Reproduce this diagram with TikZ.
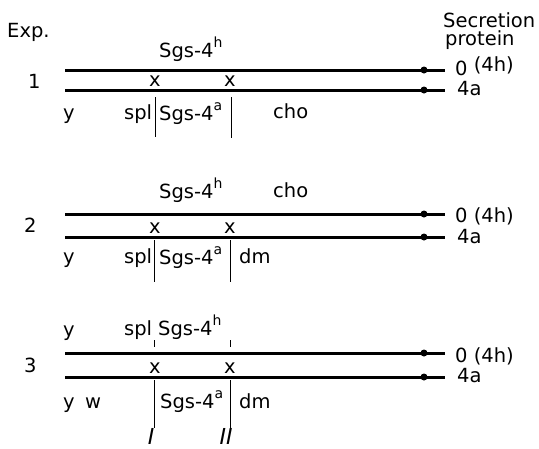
\documentclass[tikz,border=0pt]{standalone}
\usepackage{fontspec}
\setmainfont{DejaVu Sans}
% allele superscript, set a little larger than \textsuperscript
\newcommand{\allele}[1]{\raisebox{0.5em}{\fontsize{14}{14}\selectfont #1}}
\begin{document}
\begin{tikzpicture}[x=1pt,y=-1pt,
  lbl/.style={anchor=base west,inner sep=0pt,font=\fontsize{19.5}{22}\selectfont},
  mid/.style={lbl,anchor=base},
  chrom/.style={line width=3pt},
  bar/.style={line width=0.9pt},
  cen/.style={circle,fill,inner sep=0pt,minimum size=7pt},
  roman/.style={anchor=base,inner sep=0pt,font=\fontsize{22}{24}\selectfont\rmfamily\itshape}]
\useasboundingbox (0,0) rectangle (539,448);

% column heads
\node[lbl] (exp) at (7,37) {Exp.};
\node[lbl] (secr) at (443,27) {Secretion};
\node[lbl] (prot) at (445,45) {protein};

% ---------- experiment 1 ----------
\coordinate (u1s) at (65,70);  \coordinate (u1e) at (445,70);
\coordinate (l1s) at (65,90);  \coordinate (l1e) at (445,90);
\draw[chrom] (u1s) -- (u1e);
\draw[chrom] (l1s) -- (l1e);
\node[cen] (cu1) at (424,70) {};
\node[cen] (cl1) at (424,90) {};
\node[lbl] (n1) at (28,88) {1};
\node[lbl] (h1) at (159,57) {Sgs-4\allele{h}};
\node[mid] (xa1) at (155,86) {x};
\node[mid] (xb1) at (230,86) {x};
\node[lbl] (y1) at (63,119) {y};
\node[lbl] (spl1) at (124,119) {spl};
\node[lbl] (a1) at (159,120) {Sgs-4\allele{a}};
\node[lbl] (cho1) at (273,118) {cho};
\coordinate (ba1t) at (155,97);  \coordinate (ba1b) at (155,137);
\coordinate (bb1t) at (231,97);  \coordinate (bb1b) at (231,138);
\draw[bar] (ba1t) -- (ba1b);
\draw[bar] (bb1t) -- (bb1b);
\node[lbl] (o1) at (455,75) {0 \raisebox{4pt}{(4h)}};
\node[lbl] (f1) at (457,95) {4a};

% ---------- experiment 2 ----------
\coordinate (u2s) at (65,214);  \coordinate (u2e) at (445,214);
\coordinate (l2s) at (65,237);  \coordinate (l2e) at (445,237);
\draw[chrom] (u2s) -- (u2e);
\draw[chrom] (l2s) -- (l2e);
\node[cen] (cu2) at (424,214) {};
\node[cen] (cl2) at (424,237) {};
\node[lbl] (n2) at (24,232) {2};
\node[lbl] (h2) at (159,198) {Sgs-4\allele{h}};
\node[lbl] (cho2) at (273,197) {cho};
\node[mid] (xa2) at (155,233) {x};
\node[mid] (xb2) at (230,233) {x};
\node[lbl] (y2) at (63,263) {y};
\node[lbl] (spl2) at (124,263) {spl};
\node[lbl] (a2) at (159,264) {Sgs-4\allele{a}};
\node[lbl] (dm2) at (239,263) {dm};
\coordinate (ba2t) at (154,240);  \coordinate (ba2b) at (154,282);
\coordinate (bb2t) at (230,240);  \coordinate (bb2b) at (230,282);
\draw[bar] (ba2t) -- (ba2b);
\draw[bar] (bb2t) -- (bb2b);
\node[lbl] (o2) at (455,222) {0 (4h)};
\node[lbl] (f2) at (457,243) {4a};

% ---------- experiment 3 ----------
\coordinate (u3s) at (65,353);  \coordinate (u3e) at (445,353);
\coordinate (l3s) at (65,377);  \coordinate (l3e) at (445,377);
\draw[chrom] (u3s) -- (u3e);
\draw[chrom] (l3s) -- (l3e);
\node[cen] (cu3) at (424,353) {};
\node[cen] (cl3) at (424,377) {};
\node[lbl] (n3) at (24,372) {3};
\node[lbl] (y3t) at (63,336) {y};
\node[lbl] (spl3) at (124,335) {spl};
\node[lbl] (h3) at (158,335) {Sgs-4\allele{h}};
\coordinate (ta3t) at (154,340);  \coordinate (ta3b) at (154,347);
\coordinate (tb3t) at (230,340);  \coordinate (tb3b) at (230,347);
\draw[bar] (ta3t) -- (ta3b);
\draw[bar] (tb3t) -- (tb3b);
\node[mid] (xa3) at (155,373) {x};
\node[mid] (xb3) at (230,373) {x};
\node[lbl] (y3b) at (63,408) {y};
\node[lbl] (w3) at (85,408) {w};
\node[lbl] (a3) at (160,408) {Sgs-4\allele{a}};
\node[lbl] (dm3) at (239,408) {dm};
\coordinate (ba3t) at (154,380);  \coordinate (ba3b) at (154,428);
\coordinate (bb3t) at (230,380);  \coordinate (bb3b) at (230,428);
\draw[bar] (ba3t) -- (ba3b);
\draw[bar] (bb3t) -- (bb3b);
\node[roman] (r1) at (151,444) {I};
\node[roman] (r2) at (226,444) {II};
\node[lbl] (o3) at (455,362) {0 (4h)};
\node[lbl] (f3) at (457,382) {4a};
\end{tikzpicture}
\end{document}
